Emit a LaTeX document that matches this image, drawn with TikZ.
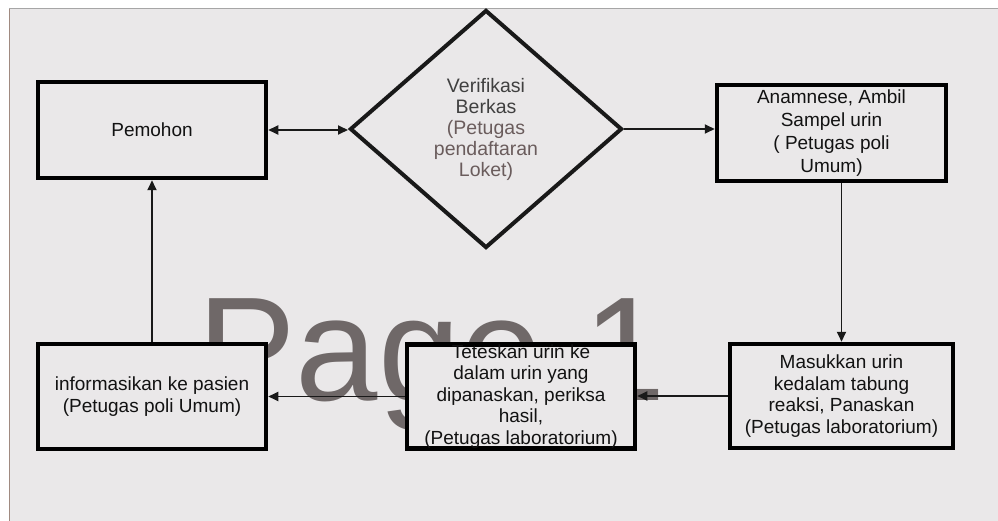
\documentclass[tikz,border=0pt]{standalone}
\usepackage{fontspec}
\setmainfont{Liberation Sans}
\usetikzlibrary{shapes.geometric,arrows.meta}
\definecolor{bg}{HTML}{EAE8E9}
\definecolor{wm}{HTML}{6F6868}
\definecolor{dgray}{HTML}{404040}
\definecolor{bgray}{HTML}{6A5C5C}
\definecolor{edge}{HTML}{A08A80}
\tikzset{
  box/.style={draw=black, line width=4.5pt, fill=bg, rectangle, inner sep=0pt, align=center,
    font=\fontsize{19}{21.5}\selectfont, text=black!93},
  decision/.style={draw=black!90, line width=4pt, fill=bg, diamond, inner sep=0pt, align=center,
    font=\fontsize{19.5}{21}\selectfont},
  conn/.style={draw=black!90, line width=1.8pt, -{Triangle[length=10pt,width=9pt]}},
  conn2/.style={draw=black!90, line width=1.8pt, {Triangle[length=10pt,width=9pt]}-{Triangle[length=10pt,width=9pt]}}
}
\begin{document}
\begin{tikzpicture}[x=1pt,y=-1pt]
\useasboundingbox (0,0) rectangle (998,521);
\fill[white] (0,0) rectangle (998,521);
\fill[bg] (9,8) rectangle (998,521);
\draw[edge, line width=1pt] (9,8) -- (9,521);
\draw[black!35, line width=0.8pt] (9,8) -- (998,8);
% watermark
\node[anchor=base west, inner sep=0pt, text=wm, font=\fontsize{148}{148}\selectfont] (wmark) at (197,400) {Page 1};
% nodes
\node[box, minimum width=228pt, minimum height=96pt] (pem) at (152,130) {Pemohon};
\node[decision, minimum width=272pt, minimum height=238pt] (dia) at (486,129)
  {\textcolor{dgray}{Verifikasi}\\\textcolor{dgray}{Berkas}\\\textcolor{bgray}{(Petugas}\\\textcolor{bgray}{pendaftaran}\\\textcolor{bgray}{Loket)}};
\node[box, minimum width=229pt, minimum height=96pt, font=\fontsize{19}{23}\selectfont] (ana) at (831.5,133)
  {Anamnese, Ambil\\Sampel urin\\( Petugas poli\\Umum)};
\node[box, minimum width=223pt, minimum height=104pt] (mas) at (841.5,396)
  {Masukkan urin\\kedalam tabung\\reaksi, Panaskan\\(Petugas laboratorium)};
\node[box, minimum width=228pt, minimum height=103pt] (tet) at (521,396.5)
  {Teteskan urin ke\\dalam urin yang\\dipanaskan, periksa\\hasil,\\(Petugas laboratorium)};
\node[box, minimum width=228pt, minimum height=105pt] (inf) at (152,396.5)
  {informasikan ke pasien\\(Petugas poli Umum)};
% connectors
\draw[conn2] (pem.east) -- (pem.east -| dia.west);
\draw[conn] (dia.east) -- (dia.east -| ana.west);
\draw[conn] (ana.south -| mas.north) -- (mas.north);
\draw[conn] (mas.west) -- (mas.west -| tet.east);
\draw[conn] (tet.west) -- (tet.west -| inf.east);
\draw[conn] (inf.north) -- (pem.south);
\end{tikzpicture}
\end{document}
